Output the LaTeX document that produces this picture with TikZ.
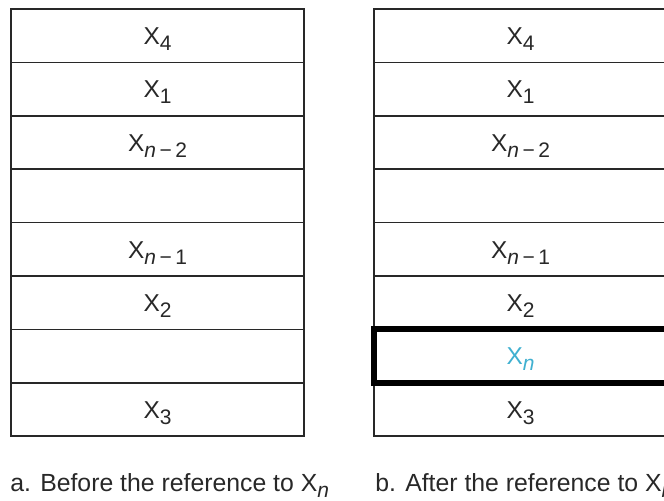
\documentclass[tikz,border=0pt]{standalone}
\usepackage{fontspec}
\setmainfont{Liberation Sans}
\definecolor{inkgray}{RGB}{40,40,40}
\definecolor{newitem}{RGB}{64,176,208}
\newcommand{\subidx}[1]{\raisebox{-3pt}{\fontsize{10.5}{12}\selectfont #1}}
\begin{document}
\begin{tikzpicture}[x=0.5pt,y=-0.5pt,
  cell/.style={draw=inkgray, line width=0.75pt, minimum width=146.5pt, minimum height=26.7pt,
    inner sep=0pt, text height=8.8pt, text depth=0pt, text=inkgray,
    font=\fontsize{12.2}{15}\selectfont},
  hit/.style={cell, line width=3pt, draw=black},
  caption/.style={anchor=base west, inner sep=0pt, text=inkgray,
    font=\fontsize{12.4}{15}\selectfont}]
\clip (0,0) rectangle (664,501);
% a. before
\node[cell] (la1) at (157.5,35.7) {X\subidx{4}};
\node[cell] (la2) at (157.5,89.1) {X\subidx{1}};
\node[cell] (la3) at (157.5,142.5) {X\subidx{\textit{n}\,−\,2}};
\node[cell] (la4) at (157.5,195.9) {};
\node[cell] (la5) at (157.5,249.3) {X\subidx{\textit{n}\,−\,1}};
\node[cell] (la6) at (157.5,302.7) {X\subidx{2}};
\node[cell] (la7) at (157.5,356.1) {};
\node[cell] (la8) at (157.5,409.5) {X\subidx{3}};
% b. after
\node[cell] (lb1) at (520.5,35.7) {X\subidx{4}};
\node[cell] (lb2) at (520.5,89.1) {X\subidx{1}};
\node[cell] (lb3) at (520.5,142.5) {X\subidx{\textit{n}\,−\,2}};
\node[cell] (lb4) at (520.5,195.9) {};
\node[cell] (lb5) at (520.5,249.3) {X\subidx{\textit{n}\,−\,1}};
\node[cell] (lb6) at (520.5,302.7) {X\subidx{2}};
\node[cell] (lb8) at (520.5,409.5) {X\subidx{3}};
\node[hit, text=newitem] (lb7) at (520.5,356.1) {X\subidx{\textit{n}}};
% captions
\node[caption] (capa) at (10,492) {a. Before the reference to X\subidx{\textit{n}}};
\node[caption] (capb) at (375,492) {b. After the reference to X\subidx{\textit{n}}};
\end{tikzpicture}
\end{document}
